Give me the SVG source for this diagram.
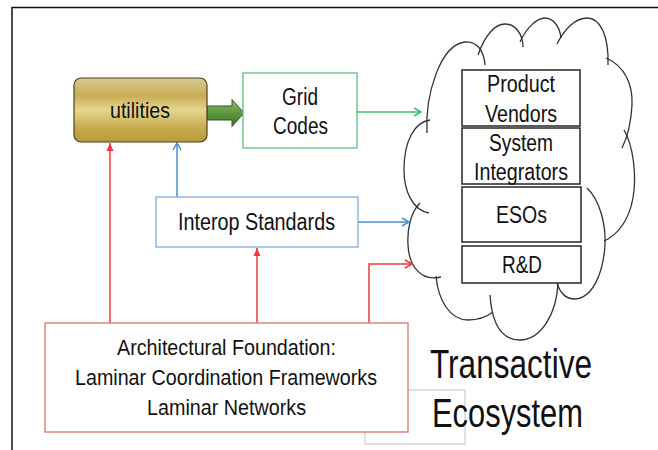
<svg xmlns="http://www.w3.org/2000/svg" width="658" height="450" viewBox="0 0 658 450">
<style>
text{font-family:"Liberation Sans",Arial,sans-serif;fill:#111;}
.t22{font-size:22px;}
.t23{font-size:23px;}
.big{font-size:40px;}
.box{fill:#fff;}
.inner{fill:#fff;stroke:#333;stroke-width:1.6;}
.cloud{fill:none;stroke:#333;stroke-width:1.3;}
.red{stroke:#f03a3a;stroke-width:1.5;fill:none;}
.blue{stroke:#4a8fd0;stroke-width:1.5;fill:none;}
.green{stroke:#3cc070;stroke-width:1.5;fill:none;}
</style>
<defs>
<linearGradient id="gold" x1="0" y1="0" x2="0" y2="1">
<stop offset="0" stop-color="#d8c98e"/>
<stop offset="0.28" stop-color="#c8ae55"/>
<stop offset="0.5" stop-color="#e6d690"/>
<stop offset="0.78" stop-color="#c5aa4c"/>
<stop offset="1" stop-color="#b89b3c"/>
</linearGradient>
<linearGradient id="grn" x1="0" y1="0" x2="0" y2="1">
<stop offset="0" stop-color="#8dbb6a"/>
<stop offset="0.5" stop-color="#5f9640"/>
<stop offset="1" stop-color="#3e7428"/>
</linearGradient>
<marker id="openRed" markerWidth="10" markerHeight="10" refX="8" refY="5" orient="auto" markerUnits="userSpaceOnUse">
<path d="M1,1 L8,5 L1,9" fill="none" stroke="#f03a3a" stroke-width="1.5"/>
</marker>
<marker id="openBlue" markerWidth="10" markerHeight="10" refX="8" refY="5" orient="auto" markerUnits="userSpaceOnUse">
<path d="M1,1 L8,5 L1,9" fill="none" stroke="#4a8fd0" stroke-width="1.5"/>
</marker>
<marker id="openGreen" markerWidth="10" markerHeight="10" refX="8" refY="5" orient="auto" markerUnits="userSpaceOnUse">
<path d="M1,1 L8,5 L1,9" fill="none" stroke="#3cc070" stroke-width="1.5"/>
</marker>
<marker id="fillRed" markerWidth="10" markerHeight="10" refX="8" refY="5" orient="auto" markerUnits="userSpaceOnUse">
<path d="M0,1.5 L8,5 L0,8.5 Z" fill="#f03a3a"/>
</marker>
</defs>
<rect width="658" height="450" fill="#fff"/>
<g id="frame">
<path d="M12,450 L12,7.5 L658,7.5" fill="none" stroke="#111" stroke-width="1.5"/>
</g>
<g id="gray-rect">
<rect x="365" y="390" width="100" height="54" fill="none" stroke="#c4c4c4" stroke-width="1"/>
</g>
<g id="cloud">
<path class="cloud" d="M427,133 C425,95 440,45 465,42 C478,41 484,52 485,65"/>
<path class="cloud" d="M478,55 C485,35 495,24 505,24 C516,24 523,35 523,47"/>
<path class="cloud" d="M520,42 C527,27 537,18 545,18 C554,18 560,28 561,38"/>
<path class="cloud" d="M557,44 C565,28 576,18 587,18 C600,18 609,35 608,65"/>
<path class="cloud" d="M606,58 C625,66 633,85 632,105 C631,125 627,138 622,148"/>
<path class="cloud" d="M624,130 C633,145 637,175 633,198 C629,220 618,235 604,241"/>
<path class="cloud" d="M587,188 C600,200 606,225 605,245 C603,275 592,298 575,299 C566,299 560,293 557,283"/>
<path class="cloud" d="M558,282 C557,315 540,340 520,340 C502,340 492,325 490,295"/>
<path class="cloud" d="M493,312 C485,318 478,320 468,320 C450,320 438,300 436,276"/>
<path class="cloud" d="M441,277 C420,282 409,265 408,245 C407,228 411,212 420,203"/>
<path class="cloud" d="M429,213 C412,210 404,190 404,170 C404,140 415,122 430,120"/>
</g>
<g id="connectors">
<path class="red" d="M110,323 L110,143" marker-end="url(#fillRed)"/>
<path class="red" d="M257,323 L257,248" marker-end="url(#fillRed)"/>
<path class="red" d="M369,323 L369,264 L412,264" marker-end="url(#openRed)"/>
<path class="blue" d="M177,197 L177,143" marker-end="url(#openBlue)"/>
<path class="blue" d="M358,222 L409,222" marker-end="url(#openBlue)"/>
<path class="green" d="M357,112 L421,112" marker-end="url(#openGreen)"/>
<path d="M207,106 L232,106 L232,99.5 L244,113 L232,126.5 L232,120 L207,120 Z" fill="url(#grn)" stroke="#2f5a20" stroke-width="1"/>
</g>
<g id="utilities">
<rect x="74" y="78" width="133" height="64" rx="7" fill="url(#gold)" stroke="#4d4020" stroke-width="1.2"/>
<text class="t22" x="110" y="118" textLength="60" lengthAdjust="spacingAndGlyphs">utilities</text>
</g>
<g id="grid-codes">
<rect class="box" x="243" y="73" width="114" height="75" stroke="#5cc080" stroke-width="1.3"/>
<text class="t23" x="282" y="105" textLength="36" lengthAdjust="spacingAndGlyphs">Grid</text>
<text class="t23" x="273" y="134" textLength="55" lengthAdjust="spacingAndGlyphs">Codes</text>
</g>
<g id="interop-standards">
<rect class="box" x="156" y="197" width="202" height="50" stroke="#80aee0" stroke-width="1.3"/>
<text class="t23" x="178" y="230" textLength="157" lengthAdjust="spacingAndGlyphs">Interop Standards</text>
</g>
<g id="architectural-foundation">
<rect class="box" x="45" y="323" width="363" height="109" stroke="#e07a7a" stroke-width="1.4"/>
<text class="t22" x="117" y="355" textLength="219" lengthAdjust="spacingAndGlyphs">Architectural Foundation:</text>
<text class="t22" x="75" y="385" textLength="302" lengthAdjust="spacingAndGlyphs">Laminar Coordination Frameworks</text>
<text class="t22" x="147" y="415" textLength="159" lengthAdjust="spacingAndGlyphs">Laminar Networks</text>
</g>
<g id="product-vendors">
<rect class="inner" x="462" y="70" width="118" height="56"/>
<text class="t23" x="487" y="92" textLength="68" lengthAdjust="spacingAndGlyphs">Product</text>
<text class="t23" x="485" y="122" textLength="72" lengthAdjust="spacingAndGlyphs">Vendors</text>
</g>
<g id="system-integrators">
<rect class="inner" x="462" y="128" width="118" height="56"/>
<text class="t23" x="489" y="151" textLength="64" lengthAdjust="spacingAndGlyphs">System</text>
<text class="t23" x="474" y="180" textLength="94" lengthAdjust="spacingAndGlyphs">Integrators</text>
</g>
<g id="esos">
<rect class="inner" x="462" y="187" width="119" height="55"/>
<text class="t23" x="496" y="223" textLength="51" lengthAdjust="spacingAndGlyphs">ESOs</text>
</g>
<g id="rnd">
<rect class="inner" x="462" y="246" width="119" height="37"/>
<text class="t23" x="502" y="273" textLength="40" lengthAdjust="spacingAndGlyphs">R&amp;D</text>
</g>
<g id="transactive-ecosystem">
<text class="big" x="430" y="378" textLength="162" lengthAdjust="spacingAndGlyphs">Transactive</text>
<text class="big" x="432" y="427" textLength="151" lengthAdjust="spacingAndGlyphs">Ecosystem</text>
</g>
</svg>
